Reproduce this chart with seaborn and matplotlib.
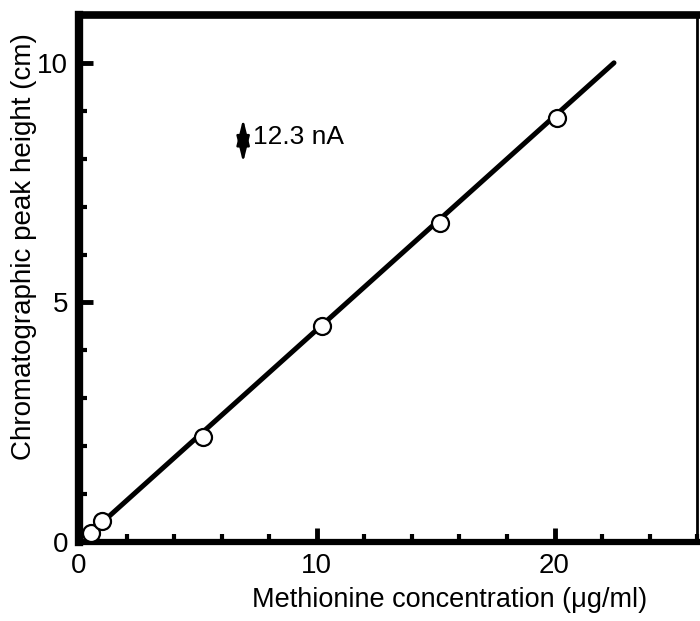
import matplotlib
matplotlib.use('Agg')
import matplotlib.pyplot as plt
import seaborn as sns
import pandas as pd
from matplotlib.ticker import MultipleLocator

conc = [0.5, 0.95, 5.2, 10.2, 15.2, 20.1]
peak = [0.2, 0.45, 2.2, 4.5, 6.65, 8.85]

# fitted calibration line end points
fit_x = [0.5, 22.5]
fit_y = [0.2, 10.0]

pts = pd.DataFrame({'conc': conc, 'peak': peak})
fit = pd.DataFrame({'conc': fit_x, 'peak': fit_y})

sns.set_style('ticks')
plt.rcParams['font.family'] = ['Liberation Sans', 'DejaVu Sans']
plt.rcParams.update({'text.color': 'black', 'axes.labelcolor': 'black',
                     'xtick.color': 'black', 'ytick.color': 'black'})

fig = plt.figure(figsize=(7, 6.21), dpi=100)
ax = fig.add_axes([0.113, 0.127, 0.883, 0.849])

sns.lineplot(x='conc', y='peak', data=fit, ax=ax, color='black', linewidth=3.6)
sns.scatterplot(x='conc', y='peak', data=pts, ax=ax, s=150, color='white',
                edgecolor='black', linewidth=1.6, zorder=5)

ax.set_xlim(0, 26)
ax.set_ylim(0, 11)
ax.xaxis.set_major_locator(MultipleLocator(10))
ax.xaxis.set_minor_locator(MultipleLocator(2))
ax.yaxis.set_major_locator(MultipleLocator(5))
ax.yaxis.set_minor_locator(MultipleLocator(1))
ax.tick_params(which='major', direction='in', length=10, width=3.5, labelsize=20, pad=8)
ax.tick_params(which='minor', direction='in', length=6, width=3)

for side, lw in [('left', 6), ('top', 5.5), ('bottom', 4.5), ('right', 2)]:
    ax.spines[side].set_linewidth(lw)
    ax.spines[side].set_color('black')

ax.set_xlabel('Methionine concentration (\u03bcg/ml)', fontsize=19.5)
ax.set_ylabel('Chromatographic peak height (cm)', fontsize=20)
ax.xaxis.set_label_coords(0.60, -0.085)
ax.yaxis.set_label_coords(-0.068, 0.56)

# scale bar for detector current
ax.annotate('', xy=(6.9, 7.92), xytext=(6.9, 8.83),
            arrowprops=dict(arrowstyle='<|-|>,head_length=1.0,head_width=0.25',
                            color='black', lw=1.8, mutation_scale=16,
                            shrinkA=0, shrinkB=0))
ax.text(7.3, 8.46, '12.3 nA', fontsize=19, va='center', ha='left')

fig.savefig('out.png', dpi=100)
